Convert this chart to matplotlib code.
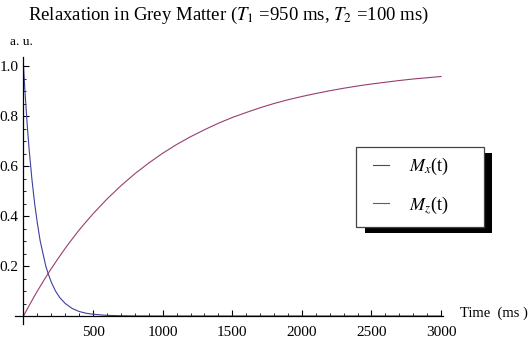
import matplotlib
matplotlib.use("Agg")
import matplotlib.pyplot as plt
from matplotlib.patches import Rectangle
from matplotlib.ticker import MultipleLocator, FixedLocator

plt.rcParams['font.family'] = ['Liberation Serif', 'DejaVu Serif']
plt.rcParams['mathtext.fontset'] = 'stix'

# Transverse magnetisation M_x(t)
t_mx = [0, 10, 20, 30, 40, 50, 60, 70, 80, 90, 100, 120, 140, 160, 180, 200,
        230, 260, 300, 350, 400, 450, 500, 600, 700, 800, 1000, 3000]
mx = [1.0, 0.905, 0.82, 0.74, 0.67, 0.61, 0.55, 0.50, 0.45, 0.41, 0.37, 0.30,
      0.25, 0.20, 0.165, 0.135, 0.10, 0.074, 0.05, 0.03, 0.018, 0.011, 0.007,
      0.0025, 0.001, 0.0003, 0.0, 0.0]

# Longitudinal magnetisation M_z(t)
t_mz = [0, 25, 50, 75, 100, 150, 200, 250, 300, 350, 400, 450, 500, 600, 700, 800,
        900, 1000, 1100, 1200, 1300, 1400, 1500, 1600, 1700, 1800, 1900, 2000, 2100,
        2200, 2300, 2400, 2500, 2600, 2700, 2800, 2900, 3000]
mz = [0.0, 0.026, 0.051, 0.076, 0.100, 0.146, 0.190, 0.231, 0.271, 0.308, 0.344,
      0.377, 0.409, 0.468, 0.521, 0.569, 0.612, 0.651, 0.686, 0.717, 0.745, 0.771,
      0.794, 0.814, 0.833, 0.850, 0.865, 0.878, 0.890, 0.901, 0.911, 0.920, 0.928,
      0.935, 0.942, 0.948, 0.953, 0.958]

x_major = [500, 1000, 1500, 2000, 2500, 3000]
y_major = [0.2, 0.4, 0.6, 0.8, 1.0]
labels = ["$M_x$(t)", "$M_z$(t)"]
colors = ["#3f3f9f", "#993d71"]

W, H = 529, 339
fig = plt.figure(figsize=(W / 100, H / 100), dpi=100)
ax = fig.add_axes([15 / W, 1 - 324 / H, (443 - 15) / W, (324 - 57) / H])

l1, = ax.plot(t_mx, mx, color=colors[0], lw=0.8)
l2, = ax.plot(t_mz, mz, color=colors[1], lw=0.8)

ax.set_xlim(-61, 3014)
ax.set_ylim(-0.032, 1.036)

for s in ['top', 'right']:
    ax.spines[s].set_visible(False)
ax.spines['left'].set_position(('data', 0))
ax.spines['bottom'].set_position(('data', 0))
for s in ['left', 'bottom']:
    ax.spines[s].set_linewidth(0.9)

ax.xaxis.set_major_locator(FixedLocator(x_major))
ax.xaxis.set_minor_locator(MultipleLocator(100))
ax.yaxis.set_major_locator(FixedLocator(y_major))
ax.yaxis.set_minor_locator(MultipleLocator(0.05))
ax.set_xticklabels([str(v) for v in x_major])
ax.set_yticklabels([f"{v:.1f}" for v in y_major])
ax.tick_params(which='major', direction='in', length=4, width=0.8, labelsize=11)
ax.tick_params(which='minor', direction='in', length=2.2, width=0.6)
ax.tick_params(axis='x', pad=7)
ax.tick_params(axis='y', pad=3.5)

fig.text(228 / W, 1 - 15 / H, "Relaxation in Grey Matter ($T_1$ =950 ms, $T_2$ =100 ms)",
         ha='center', va='center', fontsize=13.5)
fig.text(10 / W, 1 - 42 / H, "a. u.", ha='left', va='center', fontsize=9.5)
fig.text(460 / W, 1 - 313 / H, "Time  (ms )", ha='left', va='center', fontsize=10.5)

# legend box with shadow
fig.add_artist(Rectangle((365 / W, 1 - 233 / H), 127 / W, 80 / H,
                         transform=fig.transFigure, facecolor='black', edgecolor='none', zorder=5))
fig.add_artist(Rectangle((356 / W, 1 - 227 / H), 128 / W, 80 / H,
                         transform=fig.transFigure, facecolor='white', edgecolor='#444444',
                         lw=0.9, zorder=6))
leg = ax.legend([l1, l2], labels, loc='center', bbox_to_anchor=(411 / W, 1 - 186 / H),
                bbox_transform=fig.transFigure, frameon=False, fontsize=13,
                handlelength=0.9, handletextpad=1.1, labelspacing=0.95)
leg.set_zorder(7)
fig.add_artist(leg)

fig.savefig("out.png", dpi=100)
